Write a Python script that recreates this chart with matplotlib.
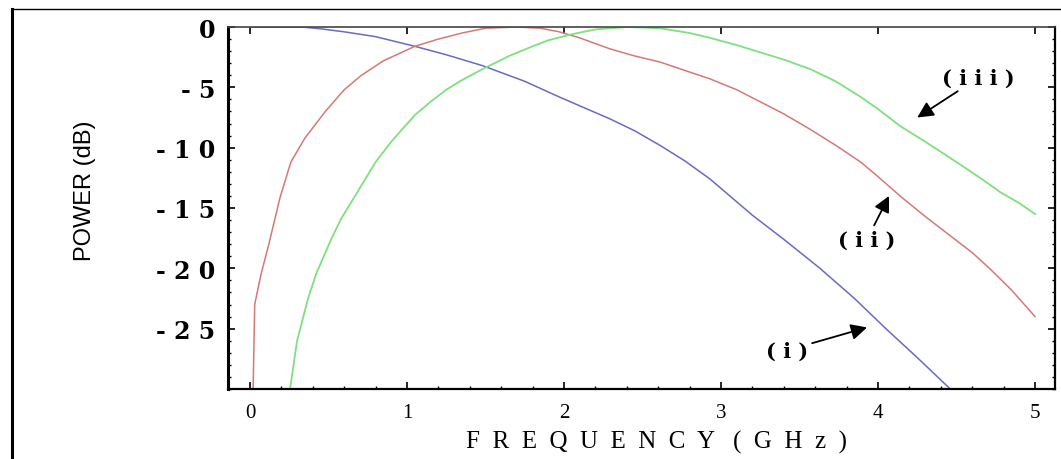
import matplotlib
matplotlib.use("Agg")
import matplotlib.pyplot as plt
from matplotlib.lines import Line2D
from matplotlib.ticker import MultipleLocator, FixedLocator, FixedFormatter

# frequency response of the three filters, power in dB vs frequency in GHz
freq_i = [0.0, 0.33, 0.45, 0.6, 0.8, 1.05, 1.25, 1.48, 1.75, 1.97, 2.29, 2.45, 2.61, 2.77,
          2.93, 3.2, 3.4, 3.63, 3.85, 4.05, 4.25, 4.46]
power_i = [0.0, 0.0, -0.15, -0.4, -0.8, -1.6, -2.3, -3.2, -4.5, -5.8, -7.6, -8.6, -9.8, -11.1,
           -12.6, -15.6, -17.6, -20.0, -22.5, -25.0, -27.4, -30.0]

freq_ii = [0.02, 0.03, 0.07, 0.12, 0.19, 0.26, 0.35, 0.48, 0.6, 0.71, 0.85, 1.05, 1.2, 1.35,
           1.5, 1.7, 1.85, 1.97, 2.1, 2.29, 2.45, 2.61, 2.77, 2.93, 3.1, 3.25, 3.4, 3.57,
           3.73, 3.89, 4.0, 4.14, 4.3, 4.45, 4.6, 4.71, 4.85, 5.0]
power_ii = [-30.0, -23.0, -20.5, -18.0, -14.2, -11.2, -9.2, -7.0, -5.2, -4.0, -2.8, -1.6, -1.0, -0.5,
            -0.1, 0.0, -0.1, -0.4, -0.9, -1.8, -2.4, -2.9, -3.6, -4.3, -5.2, -6.2, -7.2, -8.5,
            -9.8, -11.2, -12.4, -14.0, -15.7, -17.2, -18.7, -20.0, -21.8, -24.0]

freq_iii = [0.255, 0.30, 0.37, 0.42, 0.51, 0.58, 0.66, 0.72, 0.8, 0.9, 1.05, 1.15, 1.25, 1.35,
            1.48, 1.65, 1.8, 1.9, 2.05, 2.2, 2.4, 2.61, 2.8, 2.93, 3.1, 3.25, 3.4, 3.57,
            3.73, 3.89, 4.0, 4.14, 4.3, 4.5, 4.65, 4.78, 4.9, 5.0]
power_iii = [-30.0, -26.0, -22.5, -20.5, -17.8, -15.9, -14.2, -12.9, -11.2, -9.5, -7.3, -6.2, -5.2, -4.4,
             -3.5, -2.4, -1.6, -1.1, -0.6, -0.2, 0.0, -0.1, -0.5, -0.9, -1.5, -2.1, -2.7, -3.5,
             -4.5, -5.8, -6.8, -8.2, -9.5, -11.2, -12.5, -13.7, -14.6, -15.5]

xticks = [0, 1, 2, 3, 4, 5]
xtick_labels = ["0", "1", "2", "3", "4", "5"]
yticks = [0, -5, -10, -15, -20, -25]
ytick_labels = ["0", "- 5", "- 1 0", "- 1 5", "- 2 0", "- 2 5"]

fig = plt.figure(figsize=(10.61, 4.6), dpi=100)
ax = fig.add_axes([228 / 1061, 1 - 390 / 460, (1055 - 228) / 1061, (390 - 28) / 460])

ax.plot(freq_i, power_i, color="#6a6ac4", lw=1.1)
ax.plot(freq_ii, power_ii, color="#d67878", lw=1.1)
ax.plot(freq_iii, power_iii, color="#7ee07e", lw=1.3)

ax.set_xlim(-0.14, 5.127)
ax.set_ylim(-30, 0)

ax.xaxis.set_major_locator(FixedLocator(xticks))
ax.xaxis.set_major_formatter(FixedFormatter(xtick_labels))
ax.xaxis.set_minor_locator(MultipleLocator(0.2))
ax.yaxis.set_major_locator(FixedLocator(yticks))
ax.yaxis.set_major_formatter(FixedFormatter(ytick_labels))
ax.yaxis.set_minor_locator(MultipleLocator(1))

ax.tick_params(which="both", direction="in", top=True, right=True, color="black")
ax.tick_params(which="major", length=5, width=1.2)
ax.tick_params(which="minor", length=2.5, width=1.0, top=False)
ax.tick_params(axis="y", which="major", pad=9)
ax.tick_params(axis="x", which="major", pad=10)

for lab in ax.get_yticklabels():
    lab.set_fontfamily(["DejaVu Serif"])
    lab.set_fontweight("bold")
    lab.set_fontsize(17)
for lab in ax.get_xticklabels():
    lab.set_fontfamily(["Liberation Serif", "DejaVu Serif"])
    lab.set_fontsize(15)

ax.spines["left"].set_linewidth(2.2)
ax.spines["bottom"].set_linewidth(1.6)
ax.spines["right"].set_linewidth(1.6)
ax.spines["top"].set_linewidth(1.2)
ax.spines["top"].set_color("#444444")

# axis titles
fig.text(85 / 1061, 1 - 191 / 460, "POWER (dB)", rotation=90, ha="center", va="center",
         fontsize=17, family=["Liberation Sans", "DejaVu Sans"])
fig.text(656 / 1061, 1 - 442 / 460, "F  R  E  Q  U  E  N  C  Y   (  G  H  z  )",
         ha="center", va="center", fontsize=18, family=["Liberation Serif", "DejaVu Serif"])

# curve labels with arrows
arrow = dict(arrowstyle="-|>", color="black", lw=1.3, mutation_scale=24, shrinkA=1, shrinkB=0)
lab_font = dict(fontsize=15, fontweight="bold", family=["DejaVu Serif"],
                ha="center", va="center")
ax.annotate("( i i i )", xy=(4.25, -7.5), xytext=(4.64, -4.2), arrowprops=arrow, **lab_font)
ax.annotate("( i i )", xy=(4.07, -14.0), xytext=(3.93, -17.6), arrowprops=arrow, **lab_font)
ax.annotate("( i )", xy=(3.93, -24.9), xytext=(3.42, -26.8), arrowprops=arrow, **lab_font)

# page frame on the left and top
fig.add_artist(Line2D([12 / 1061, 12 / 1061], [0, 1 - 10 / 460], color="black", lw=2.2,
                      transform=fig.transFigure))
fig.add_artist(Line2D([12 / 1061, 1], [1 - 10 / 460, 1 - 10 / 460], color="black", lw=1.0,
                      transform=fig.transFigure))

fig.savefig("out.png", dpi=100)
